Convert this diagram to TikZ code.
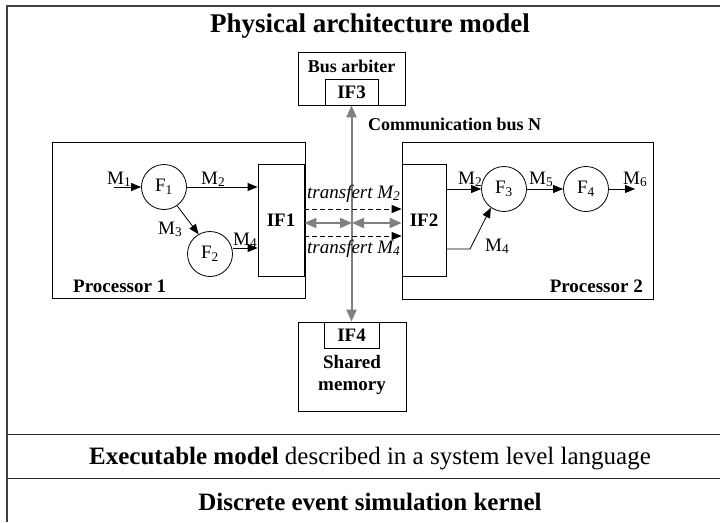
\documentclass[tikz,border=0pt]{standalone}
\usepackage{fontspec}
\setmainfont{Liberation Serif}
\usetikzlibrary{arrows.meta}
\begin{document}
\begin{tikzpicture}[x=1pt,y=-1pt,
  frame/.style={draw=black!75, line width=1.4pt},
  boxn/.style={draw=black, line width=0.8pt, inner sep=0pt},
  func/.style={draw=black, line width=0.8pt, circle, minimum size=45pt, inner sep=0pt, font=\fontsize{19}{19}\selectfont},
  msg/.style={font=\fontsize{19}{19}\selectfont, inner sep=0pt, anchor=base west},
  blab/.style={font=\fontsize{19}{21}\selectfont\bfseries, inner sep=0pt},
  iflab/.style={font=\fontsize{19}{19}\selectfont\bfseries},
  arr/.style={-{Triangle[length=10pt,width=8pt]}, line width=0.8pt},
  darr/.style={-{Triangle[length=10pt,width=8pt]}, line width=0.8pt, dash pattern=on 5pt off 3pt},
  busarr/.style={{Triangle[length=12pt,width=10pt]}-{Triangle[length=12pt,width=10pt]}, draw=black!50, line width=2pt}
]
\useasboundingbox (0,0) rectangle (720,522);
% frame
\draw[frame] (7,522) -- (7,6) -- (720,6);
\draw[line width=1pt, black!85] (7,434) -- (720,434);
\draw[line width=1pt, black!85] (7,478) -- (720,478);

\node[font=\fontsize{27}{29}\selectfont\bfseries, anchor=base, inner sep=0pt] (title) at (370,32) {Physical architecture model};
\node[font=\fontsize{25}{27}\selectfont, anchor=base, inner sep=0pt] (exe) at (370,464) {\textbf{Executable model} described in a system level language};
\node[font=\fontsize{25}{27}\selectfont\bfseries, anchor=base, inner sep=0pt] (kern) at (370,510) {Discrete event simulation kernel};

% processor 1
\node[boxn, minimum width=253pt, minimum height=156pt] (p1) at (178.5,220) {};
\node[boxn, minimum width=46pt, minimum height=112pt, iflab] (if1) at (281,220) {IF1};
\node[blab, anchor=base west] (p1l) at (73,292) {Processor 1};
\node[func] (f1) at (164,187) {F\textsubscript{1}};
\node[func] (f2) at (210,254) {F\textsubscript{2}};
\coordinate (m1s) at (114,187);
\draw[arr] (m1s) -- (f1.west);
\node[msg] (m1) at (107,184) {M\textsubscript{1}};
\draw[arr] (f1.east) -- (f1.east -| if1.west);
\node[msg] (m2a) at (201,184) {M\textsubscript{2}};
\draw[arr] (f1.-55) -- (f2.120);
\node[msg] (m3) at (158,234) {M\textsubscript{3}};
\draw[arr] (f2.east |- 0,248) -- (if1.west |- 0,248);
\node[msg] (m4a) at (233,245) {M\textsubscript{4}};

% processor 2
\node[boxn, minimum width=251pt, minimum height=157pt] (p2) at (527.5,220.5) {};
\node[boxn, minimum width=44pt, minimum height=112pt, iflab] (if2) at (424,220) {IF2};
\node[blab, anchor=base east] (p2l) at (643,292) {Processor 2};
\node[func] (f3) at (504,189) {F\textsubscript{3}};
\node[func] (f4) at (586,189) {F\textsubscript{4}};
\draw[arr] (if2.east |- f3.west) -- (f3.west);
\node[msg] (m2b) at (458,184) {M\textsubscript{2}};
\draw[arr] (f3.east) -- (f4.west);
\node[msg] (m5) at (529,184) {M\textsubscript{5}};
\coordinate (m6e) at (635,189);
\draw[arr] (f4.east) -- (m6e);
\node[msg] (m6) at (623,184) {M\textsubscript{6}};
\coordinate (m4k) at (470,249);
\draw[arr] (if2.east |- m4k) -- (m4k) -- (f3.-125);
\node[msg] (m4b) at (485,251) {M\textsubscript{4}};

% bus arbiter
\node[boxn, minimum width=107pt, minimum height=53pt] (arb) at (351.5,78.5) {};
\node[blab, anchor=base, font=\fontsize{18}{18}\selectfont\bfseries] (arbl) at (351.5,72) {Bus arbiter};
\node[boxn, minimum width=53pt, minimum height=26pt, iflab] (if3) at (351.5,92) {IF3};

% shared memory
\node[boxn, minimum width=108pt, minimum height=89pt] (mem) at (352,366.5) {};
\node[boxn, minimum width=55pt, minimum height=26pt, iflab] (if4) at (351.5,335) {IF4};
\node[blab, align=center, font=\fontsize{19}{22}\selectfont\bfseries] (meml) at (352,375) {Shared\\memory};

% bus
\draw[busarr] (if3.south) -- (if4.north);
\node[blab, anchor=base west, font=\fontsize{18}{18}\selectfont\bfseries] (busl) at (368,130) {Communication bus N};
\coordinate (bc) at (352,223);
\draw[busarr] (if1.east |- bc) -- (bc);
\draw[busarr] (bc) -- (if2.west |- bc);
\draw[darr] (if1.east |- 0,209) -- (if2.west |- 0,209);
\draw[darr] (if1.east |- 0,236) -- (if2.west |- 0,236);
\node[msg] (t2) at (307,198) {\itshape transfert M\textsubscript{2}};
\node[msg] (t4) at (307,253) {\itshape transfert M\textsubscript{4}};
\end{tikzpicture}
\end{document}
